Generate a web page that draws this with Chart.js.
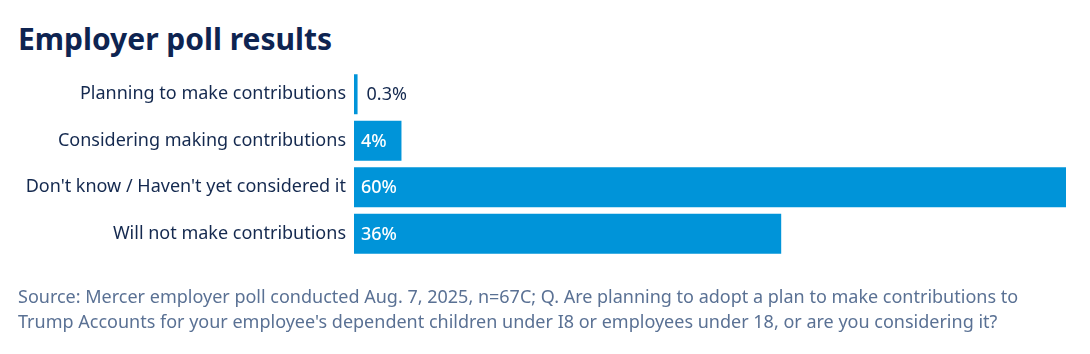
<!DOCTYPE html>
<html>
<head>
<meta charset="utf-8">
<script src="https://cdn.jsdelivr.net/npm/chart.js@4/dist/chart.umd.min.js"></script>
<style>
  html, body { margin: 0; padding: 0; background: #ffffff; }
  body { width: 1090px; height: 354px; position: relative; overflow: hidden; font-family: 'Noto Sans', sans-serif; }
  #title { position: absolute; left: 18px; top: 18px; margin: 0; font-size: 30px; font-weight: 700; color: #0e2451; white-space: nowrap; }
  #wrap { position: absolute; left: 0; top: 0; width: 1090px; height: 354px; }
  #source { position: absolute; left: 18px; top: 284px; font-size: 18px; line-height: 25px; color: #5a7194; white-space: nowrap; }
</style>
</head>
<body>
<h1 id="title">Employer poll results</h1>
<div id="wrap"><canvas id="pollChart"></canvas></div>
<div id="source">Source: Mercer employer poll conducted Aug. 7, 2025, n=67C; Q. Are planning to adopt a plan to make contributions to<br>Trump Accounts for your employee's dependent children under I8 or employees under 18, or are you considering it?</div>
<script>
// categories and values (percent of employers)
const categories = [
    'Planning to make contributions',
    'Considering making contributions',
    "Don't know / Haven't yet considered it",
    'Will not make contributions'
];
const shares = [0.3, 4, 60, 36];
const shareLabels = ['0.3%', '4%', '60%', '36%'];

const NAVY = '#14294f';
const BLUE = '#0094d9';

// value labels: inside the bar in white, or just past the end when the bar is too thin
const valueLabels = {
    id: 'valueLabels',
    afterDatasetsDraw(chart) {
        const ctx = chart.ctx;
        const meta = chart.getDatasetMeta(0);
        ctx.save();
        ctx.textBaseline = 'middle';
        ctx.textAlign = 'left';
        meta.data.forEach((bar, i) => {
            const w = bar.x - bar.base;
            if (w < 30) {
                ctx.font = "18px 'Noto Sans', sans-serif";
                ctx.fillStyle = NAVY;
                ctx.fillText(shareLabels[i], bar.x + 9, bar.y + 1);
            } else {
                ctx.font = "500 18px 'Noto Sans', sans-serif";
                ctx.fillStyle = '#ffffff';
                ctx.fillText(shareLabels[i], bar.base + 7, bar.y + 1);
            }
        });
        ctx.restore();
    }
};

Chart.defaults.font.family = "'Noto Sans', sans-serif";

new Chart(document.getElementById('pollChart').getContext('2d'), {
    type: 'bar',
    data: {
        labels: categories,
        datasets: [{
            data: shares,
            backgroundColor: BLUE,
            borderWidth: 0,
            barPercentage: 0.86,
            categoryPercentage: 1
        }]
    },
    options: {
        indexAxis: 'y',
        responsive: true,
        maintainAspectRatio: false,
        animation: false,
        layout: { padding: { top: 71, bottom: 97, left: 0, right: 24 } },
        scales: {
            x: {
                display: false,
                min: 0,
                max: 60
            },
            y: {
                grid: { display: false },
                border: { display: false },
                ticks: {
                    color: NAVY,
                    font: { size: 18 },
                    padding: 0
                },
                afterFit(scale) { scale.width = 354; }
            }
        },
        plugins: {
            legend: { display: false },
            tooltip: { enabled: false }
        }
    },
    plugins: [valueLabels]
});
</script>
</body>
</html>
